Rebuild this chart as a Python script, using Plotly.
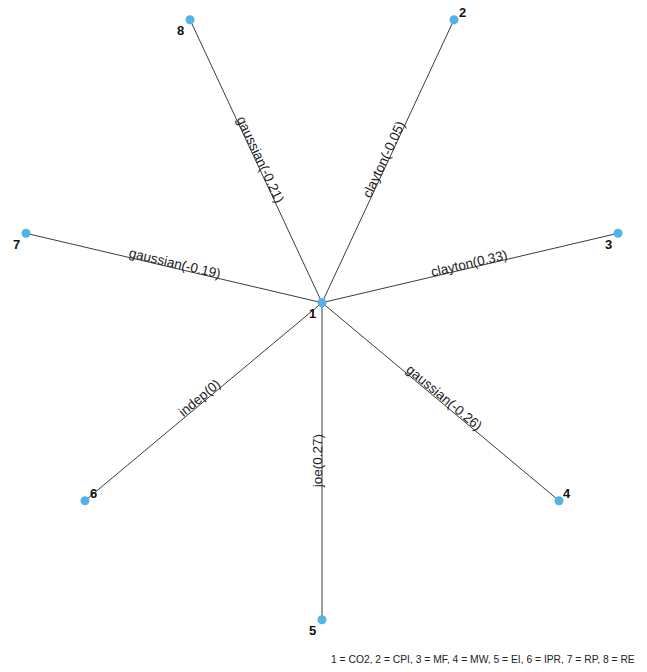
import math
import plotly.graph_objects as go

# ---- data ----
node_ids = ["1", "2", "3", "4", "5", "6", "7", "8"]
node_x = [0, 132, 296, 237, 0, -237, -296, -132]
node_y = [0, 283, 69.4, -198, -317, -198, 69.4, 283]
edge_from = ["1", "1", "1", "1", "1", "1", "1"]
edge_to = ["2", "3", "4", "5", "6", "7", "8"]
edge_labels = ["clayton(-0.05)", "clayton(0.33)", "gaussian(-0.26)", "joe(0.27)",
               "indep(0)", "gaussian(-0.19)", "gaussian(-0.21)"]
legend_text = "1 = CO2, 2 = CPI, 3 = MF, 4 = MW, 5 = EI, 6 = IPR, 7 = RP, 8 = RE"

# ---- styling / layout ----
PAGE_OFF = 8  # default body margin of the page
W, H = 647 - PAGE_OFF, 672 - 2 * PAGE_OFF
CX, CY = 322 - PAGE_OFF, 302.7 - PAGE_OFF  # pixel position of the centre node
XR = [-CX, W - CX]
YR = [CY - H, CY]
label_side = {"1": "bl", "2": "tr", "3": "bl", "4": "tr", "5": "bl", "6": "tr", "7": "bl", "8": "bl"}
NODE_COL = "#52B3E8"
EDGE_COL = "#3c3c3c"
FONT = "Liberation Sans, Arial, sans-serif"

sx = W / (XR[1] - XR[0])
sy = H / (YR[1] - YR[0])
pos = {n: (x, y) for n, x, y in zip(node_ids, node_x, node_y)}

fig = go.Figure()

ex, ey = [], []
for a, b in zip(edge_from, edge_to):
    ex += [pos[a][0], pos[b][0], None]
    ey += [pos[a][1], pos[b][1], None]
fig.add_trace(go.Scatter(x=ex, y=ey, mode="lines",
                         line=dict(color=EDGE_COL, width=1), hoverinfo="skip"))
fig.add_trace(go.Scatter(x=node_x, y=node_y, mode="markers",
                         marker=dict(color=NODE_COL, size=9, line=dict(width=0)),
                         hoverinfo="skip"))

annotations = []
for a, b, lab in zip(edge_from, edge_to, edge_labels):
    (x0, y0), (x1, y1) = pos[a], pos[b]
    dxp = (x1 - x0) * sx
    dyp = -(y1 - y0) * sy  # screen y downward
    ang = math.degrees(math.atan2(dyp, dxp))
    if ang >= 90:
        ang -= 180
    elif ang < -90:
        ang += 180
    d = 5
    th = math.radians(ang)
    annotations.append(dict(
        x=(x0 + x1) / 2, y=(y0 + y1) / 2, text=lab, showarrow=False,
        textangle=ang, xanchor="center", yanchor="middle",
        xshift=d * math.sin(th), yshift=d * math.cos(th),
        font=dict(family=FONT, size=13.5, color="#222222")))

for n, x, y in zip(node_ids, node_x, node_y):
    if label_side[n] == "bl":
        xs, ys = -10, -11
    else:
        xs, ys = 8, 7
    annotations.append(dict(
        x=x, y=y, text="<b>%s</b>" % n, showarrow=False,
        xanchor="center", yanchor="middle", xshift=xs, yshift=ys,
        font=dict(family=FONT, size=13, color="#111111")))

annotations.append(dict(
    x=1, y=(H - (659 - PAGE_OFF)) / H, xref="paper", yref="paper", text=legend_text,
    showarrow=False, xanchor="right", yanchor="middle", xshift=-10,
    font=dict(family=FONT, size=10.3, color="#222222")))

fig.update_layout(
    width=W, height=H, margin=dict(l=0, r=0, t=0, b=0),
    paper_bgcolor="white", plot_bgcolor="white", showlegend=False,
    xaxis=dict(range=XR, visible=False, fixedrange=True),
    yaxis=dict(range=YR, visible=False, fixedrange=True),
    annotations=annotations,
)

fig.write_html("out.html")
